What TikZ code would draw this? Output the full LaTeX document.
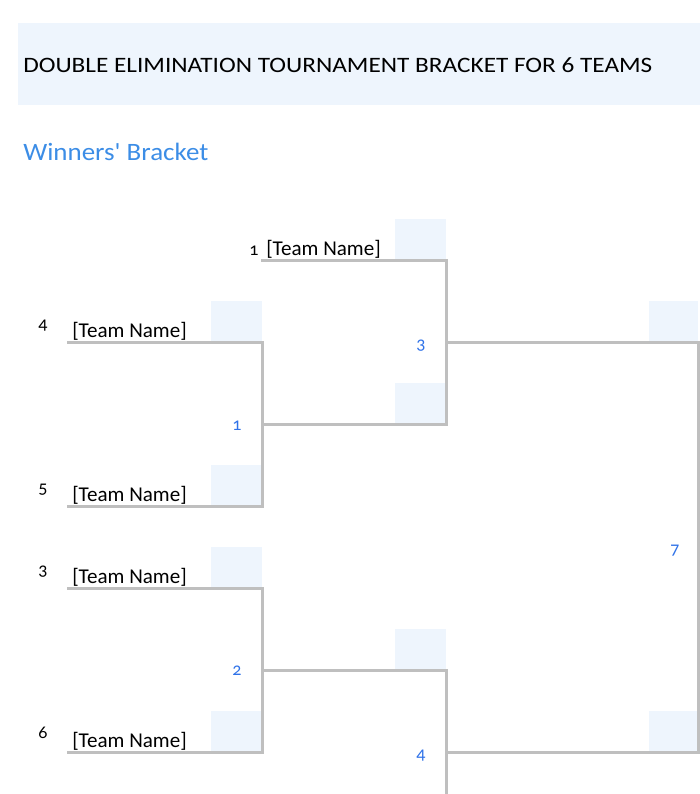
\documentclass[tikz,border=0pt]{standalone}
\usepackage{fontspec}
\setmainfont{Carlito}
\newfontfamily\plaincarlito{Carlito}[Ligatures=TeXOff]
\usepackage{graphicx}
\definecolor{bandfill}{HTML}{EEF5FD}
\definecolor{shadefill}{HTML}{EEF5FD}
\definecolor{headblue}{HTML}{3C8DE6}
\definecolor{numblue}{HTML}{2F72E8}
\definecolor{linegray}{HTML}{BFBFBF}
\begin{document}
\begin{tikzpicture}[x=0.75pt,y=-0.75pt,
  shadebox/.style={fill=shadefill,draw=none},
  bline/.style={draw=linegray,line width=2.25pt,line join=miter,line cap=rect},
  teamtxt/.style={anchor=base west,inner sep=0pt,font=\fontsize{15.8pt}{18pt}\selectfont},
  seednum/.style={anchor=center,inner sep=0pt,font=\fontsize{13.5pt}{16pt}\selectfont\addfontfeatures{Numbers=OldStyle}},
  matchnum/.style={anchor=center,inner sep=0pt,text=numblue,font=\fontsize{13.5pt}{16pt}\selectfont\addfontfeatures{Numbers=OldStyle}}]
\useasboundingbox (0,0) rectangle (700,794);
% title band
\fill[bandfill] (18,23) rectangle (700,105);
\node[anchor=base west,inner sep=0pt,font=\fontsize{16.5pt}{20pt}\selectfont] (title) at (23,72)
  {\resizebox{471.75pt}{\height}{DOUBLE ELIMINATION TOURNAMENT BRACKET FOR 6 TEAMS}};
\node[anchor=base west,inner sep=0pt,text=headblue,font=\plaincarlito\fontsize{18.75pt}{22pt}\selectfont] (wb) at (23,160)
  {\resizebox{138.75pt}{\height}{Winners' Bracket}};
% shaded boxes
\path[shadebox] (211,301) rectangle (262,342);
\path[shadebox] (211,465) rectangle (262,506);
\path[shadebox] (211,547) rectangle (262,588);
\path[shadebox] (211,711) rectangle (262,752);
\path[shadebox] (395,219) rectangle (446,260);
\path[shadebox] (395,383) rectangle (446,424);
\path[shadebox] (395,629) rectangle (446,670);
\path[shadebox] (649,301) rectangle (698,342);
\path[shadebox] (649,711) rectangle (698,752);
% coordinates
\coordinate (t4) at (68,342);
\coordinate (t5) at (68,506);
\coordinate (t3) at (68,588);
\coordinate (t6) at (68,752);
\coordinate (t1) at (262,260);
\coordinate (m1t) at (262,342);
\coordinate (m1b) at (262,506);
\coordinate (m1o) at (262,424);
\coordinate (m2t) at (262,588);
\coordinate (m2b) at (262,752);
\coordinate (m2o) at (262,670);
\coordinate (m3t) at (446,260);
\coordinate (m3b) at (446,424);
\coordinate (m3o) at (446,342);
\coordinate (m4t) at (446,670);
\coordinate (m4b) at (446,800);
\coordinate (m4o) at (446,752);
\coordinate (m7t) at (698,342);
\coordinate (m7b) at (698,752);
% bracket lines
\draw[bline] (t4) -- (m1t) -- (m1b) -- (t5);
\draw[bline] (t3) -- (m2t) -- (m2b) -- (t6);
\draw[bline] (t1) -- (m3t) -- (m3b) -- (m1o);
\draw[bline] (m2o) -- (m4t) -- (m4b);
\draw[bline] (m3o) -- (m7t) -- (m7b) -- (m4o);
% team names
\node[teamtxt] (n4) at (72,337) {[Team Name]};
\node[teamtxt] (n5) at (72,501) {[Team Name]};
\node[teamtxt] (n3) at (72,583) {[Team Name]};
\node[teamtxt] (n6) at (72,747) {[Team Name]};
\node[teamtxt] (n1) at (266,255) {[Team Name]};
% seeds
\node[seednum] (s4) at (43,326) {4};
\node[seednum] (s5) at (43,490) {5};
\node[seednum] (s3) at (43,572) {3};
\node[seednum] (s6) at (43,733) {6};
\node[seednum] (s1) at (254,251) {1};
% match numbers
\node[matchnum] (g1) at (237,426) {1};
\node[matchnum] (g2) at (237,671) {2};
\node[matchnum] (g3) at (421,346) {3};
\node[matchnum] (g4) at (421,756) {4};
\node[matchnum] (g7) at (675,551) {7};
\end{tikzpicture}
\end{document}
